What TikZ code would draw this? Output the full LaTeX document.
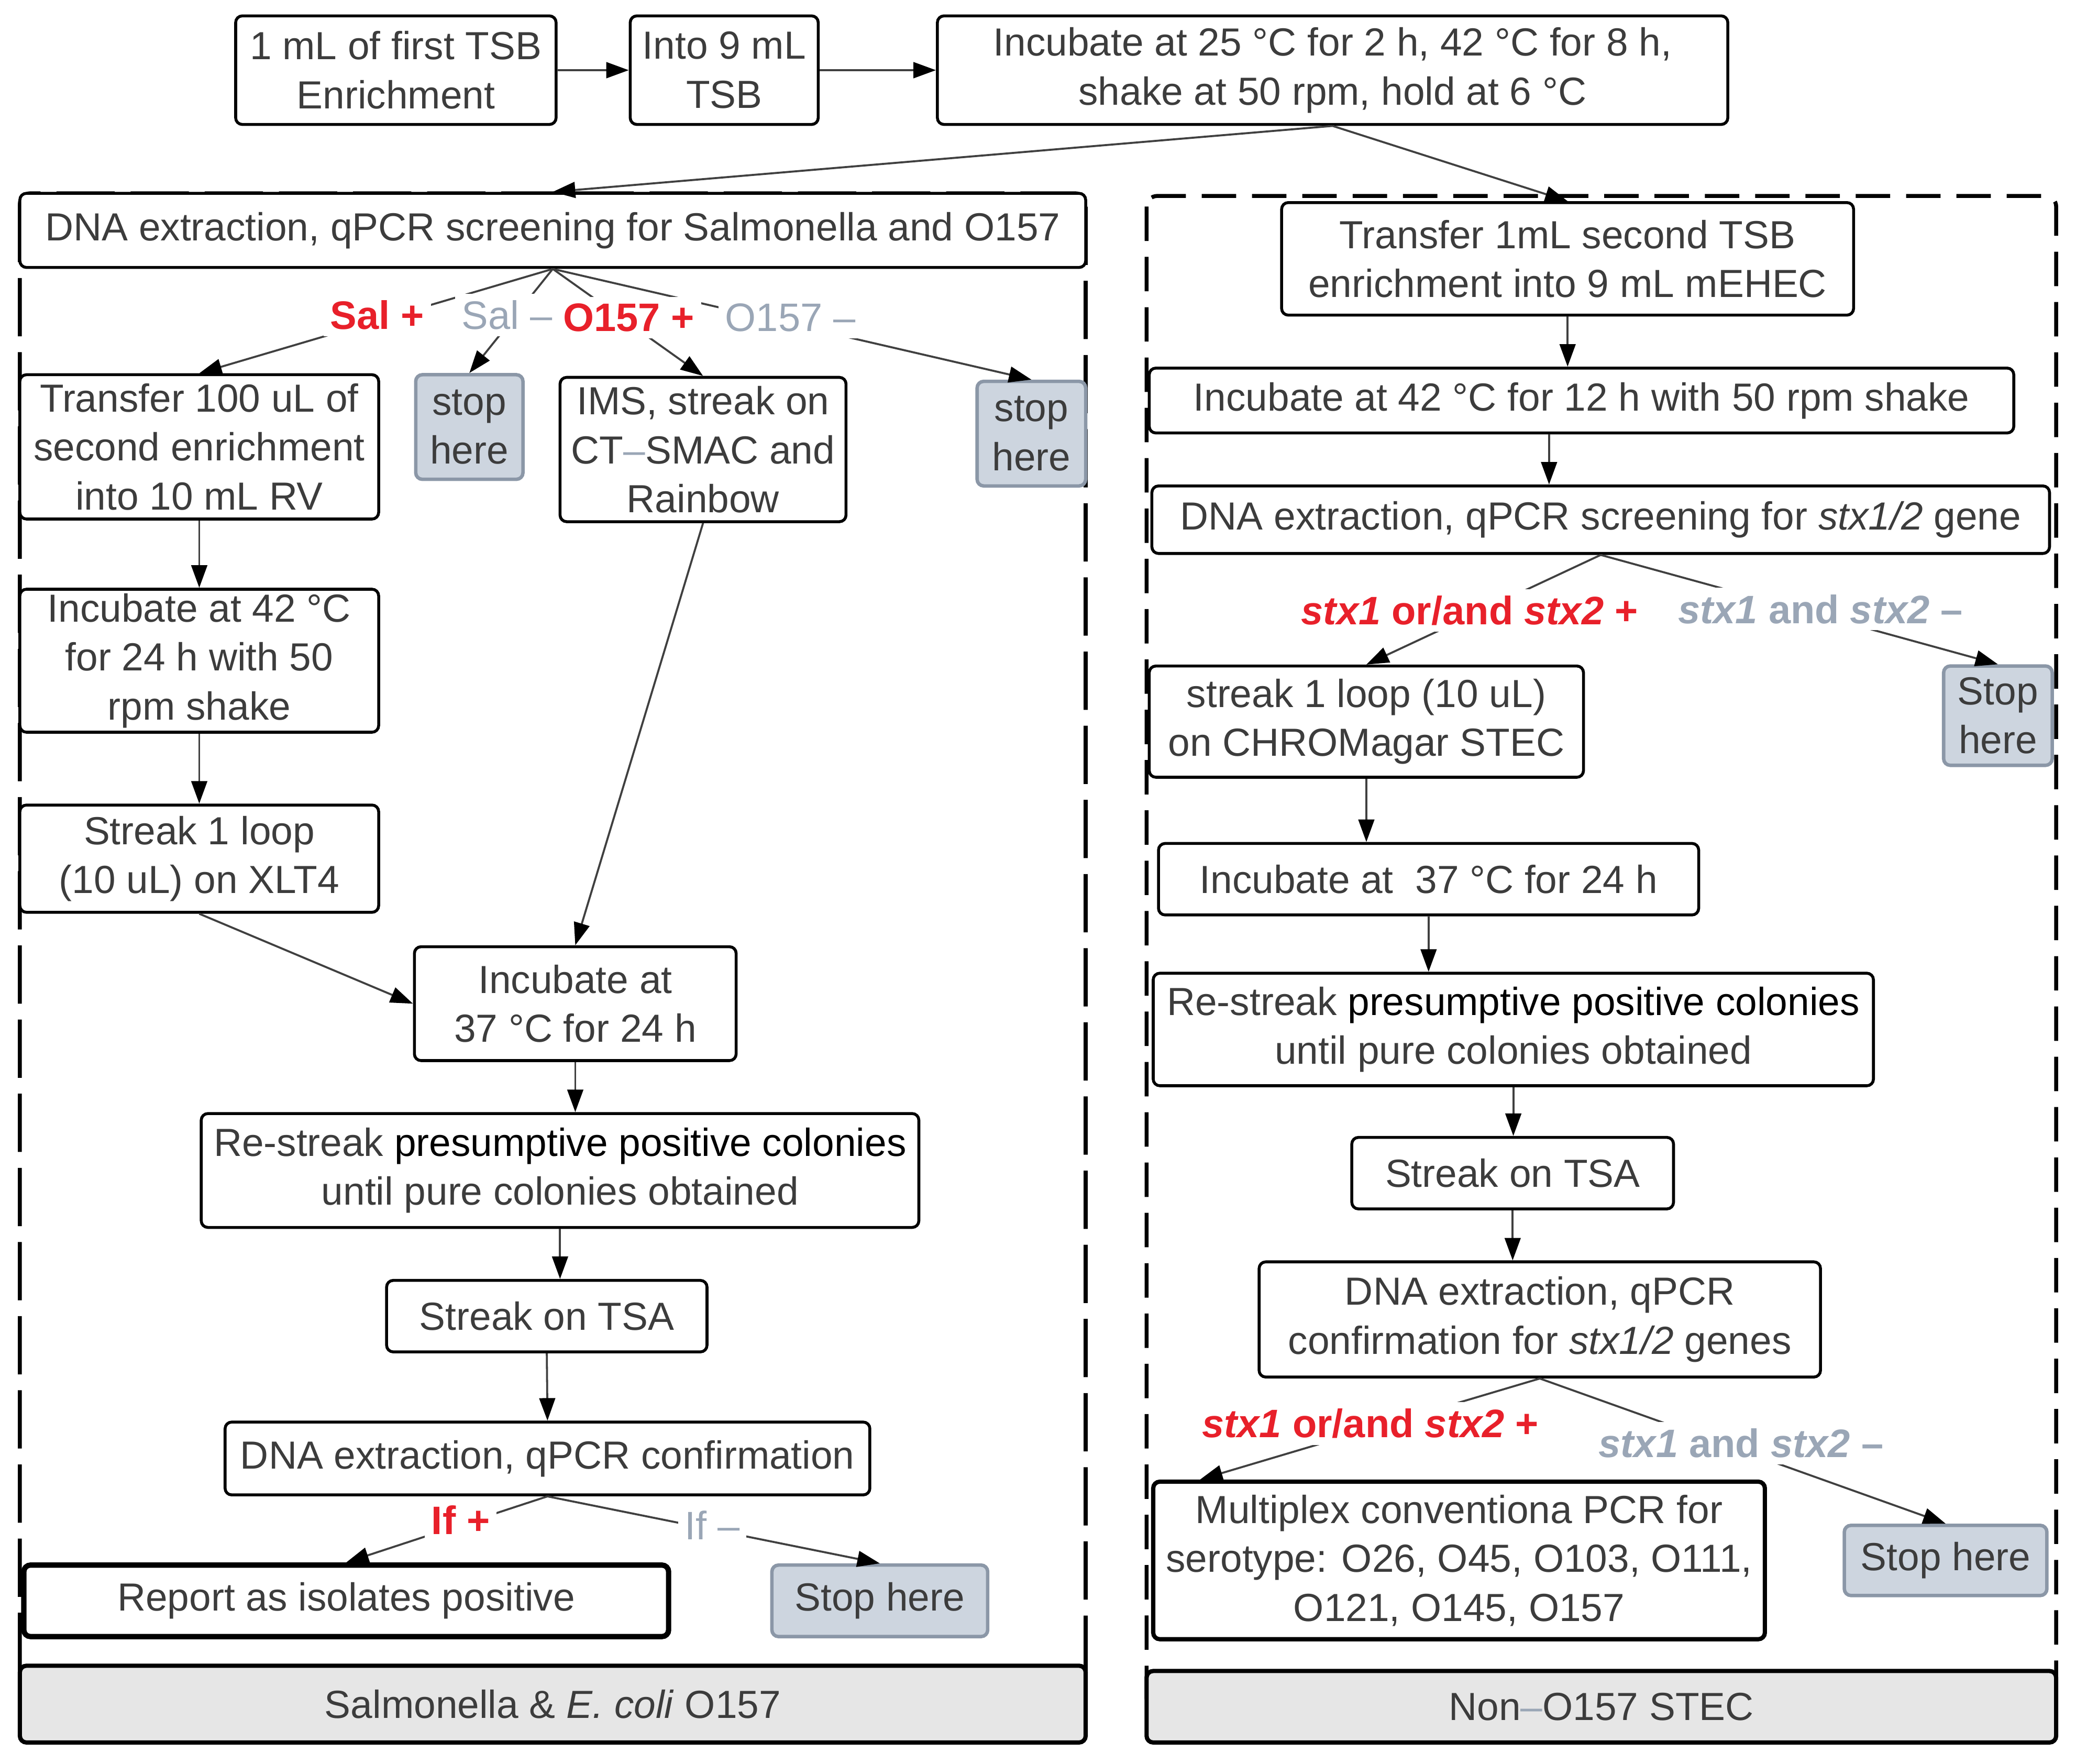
\documentclass[tikz,border=0pt]{standalone}
\usepackage{fontspec}
\setmainfont{Liberation Sans}
\usetikzlibrary{arrows.meta,calc}
\definecolor{txt}{HTML}{3C3C3C}
\definecolor{redl}{HTML}{E8202A}
\definecolor{grayl}{HTML}{9AA6B6}
\definecolor{stopfill}{HTML}{CDD5DF}
\definecolor{stopdraw}{HTML}{8B97A7}
\definecolor{barfill}{HTML}{E6E6E6}
\definecolor{conn}{HTML}{404040}
\begin{document}
\begin{tikzpicture}[x=0.5pt,y=-0.5pt,
 box/.style={draw=black, line width=1.1pt, rounded corners=2.5pt, fill=white, align=center, inner sep=0pt, text=txt, font=\fontsize{14.8}{18.5}\selectfont},
 stopbox/.style={box, draw=stopdraw, fill=stopfill, line width=1.3pt},
 barbox/.style={box, fill=barfill, line width=1.6pt},
 lab/.style={fill=white, inner sep=2.5pt, font=\fontsize{15}{18}\selectfont},
 arr/.style={draw=conn, line width=0.75pt, -{Triangle[length=8.5pt,width=6pt,color=black]}},
 cont/.style={draw=black, line width=1.5pt, rounded corners=4pt}
]
\path[fill=white] (0,0) rectangle (1568,1332);
\useasboundingbox (0,0) rectangle (1568,1332);

% containers
\draw[cont, dash pattern=on 22pt off 6pt] (15,146) rectangle (820,1290);
\draw[cont, dash pattern=on 13pt off 6pt] (866,148) rectangle (1553,1290);
\node[barbox, minimum width=402.5pt, minimum height=29pt] (LB) at (417.5,1287) {Salmonella \& \textit{E. coli} O157};
\node[barbox, minimum width=343.5pt, minimum height=27pt] (RB) at (1209.5,1289) {Non\textcolor{grayl}{–}O157 STEC};

% top row
\node[box, minimum width=121pt, minimum height=41pt] (B1) at (299,53) {1 mL of first TSB\\Enrichment};
\node[box, minimum width=71pt, minimum height=41pt] (B2) at (547,53) {Into 9 mL\\TSB};
\node[box, minimum width=298.5pt, minimum height=41pt] (B3) at (1006.5,53) {Incubate at 25 °C for 2 h, 42 °C for 8 h,\\shake at 50 rpm, hold at 6 °C};

% left column
\node[box, minimum width=402.5pt, minimum height=28pt] (L1) at (417.5,174) {DNA extraction, qPCR screening for Salmonella and O157};
\node[box, minimum width=135.5pt, minimum height=54.5pt] (L2) at (150.5,337.5) {Transfer 100 uL of\\second enrichment\\into 10 mL RV};
\node[stopbox, minimum width=40.5pt, minimum height=39.5pt] (S1) at (354.5,322.5) {stop\\here};
\node[box, minimum width=108pt, minimum height=54.5pt] (L3) at (531,339.5) {IMS, streak on\\CT\textcolor{grayl}{–}SMAC and\\Rainbow};
\node[stopbox, minimum width=41pt, minimum height=39.5pt] (S2) at (779,327.5) {stop\\here};
\node[box, minimum width=135.5pt, minimum height=54pt] (L4) at (150.5,499) {Incubate at 42 °C\\for 24 h with 50\\rpm shake};
\node[box, minimum width=135.5pt, minimum height=40.5pt] (L5) at (150.5,648.5) {Streak 1 loop\\(10 uL) on XLT4};
\node[box, minimum width=121.5pt, minimum height=43pt] (L6) at (434.5,758) {Incubate at\\37 °C for 24 h};
\node[box, minimum width=271pt, minimum height=43pt] (L7) at (423,884) {Re-streak \textcolor{black}{presumptive positive colonies}\\until pure colonies obtained};
\node[box, minimum width=121pt, minimum height=27pt] (L8) at (413,994) {Streak on TSA};
\node[box, minimum width=243.5pt, minimum height=27.5pt] (L9) at (413.5,1101.5) {DNA extraction, qPCR confirmation};
\node[box, line width=2pt, minimum width=243.5pt, minimum height=27pt] (L10) at (261.5,1209) {Report as isolates positive};
\node[stopbox, minimum width=81.5pt, minimum height=27pt] (S3) at (664.5,1209) {Stop here};

% right column
\node[box, minimum width=216pt, minimum height=42.5pt] (R1) at (1184,195.5) {Transfer 1mL second TSB\\enrichment into 9 mL mEHEC};
\node[box, minimum width=326.5pt, minimum height=24.5pt] (R2) at (1194.5,302.5) {Incubate at 42 °C for 12 h with 50 rpm shake};
\node[box, minimum width=339pt, minimum height=25.5pt] (R3) at (1209,392.5) {DNA extraction, qPCR screening for \textit{stx1/2} gene};
\node[box, minimum width=164pt, minimum height=42pt] (R4) at (1032,545) {streak 1 loop (10 uL)\\on CHROMagar STEC};
\node[stopbox, minimum width=41pt, minimum height=37.5pt] (S4) at (1509,540.5) {Stop\\here};
\node[box, minimum width=204pt, minimum height=27pt] (R5) at (1079,664) {Incubate at\ \ 37 °C for 24 h};
\node[box, minimum width=272pt, minimum height=42.5pt] (R6) at (1143,777.5) {Re-streak \textcolor{black}{presumptive positive colonies}\\until pure colonies obtained};
\node[box, minimum width=121.5pt, minimum height=27pt] (R7) at (1142.5,886) {Streak on TSA};
\node[box, minimum width=212pt, minimum height=43.5pt] (R8) at (1163,996.5) {DNA extraction, qPCR\\confirmation for \textit{stx1/2} genes};
\node[box, line width=1.6pt, minimum width=231pt, minimum height=59.5pt] (R9) at (1102,1178.5) {Multiplex conventiona PCR for\\serotype: O26, O45, O103, O111,\\O121, O145, O157};
\node[stopbox, minimum width=76.5pt, minimum height=26.5pt] (S5) at (1469.5,1178.5) {Stop here};
\coordinate (R9in) at ([xshift=18.5pt]R9.north west);

% connectors
\draw[arr] (B1.east) -- (B2.west);
\draw[arr] (B2.east) -- (B3.west);
\draw[arr] (B3.south) -- (L1.north);
\draw[arr] (B3.south) -- (R1.north);

\draw[arr] (L1.south) -- (L2.north);
\draw[arr] (L1.south) -- (S1.north);
\draw[arr] (L1.south) -- (L3.north);
\draw[arr] (L1.south) -- (S2.north);
\draw[arr] (L2.south) -- (L4.north);
\draw[arr] (L4.south) -- (L5.north);
\draw[arr] (L5.south) -- (L6.west);
\draw[arr] (L3.south) -- (L6.north);
\draw[arr] (L6.south) -- (L6.south |- L7.north);
\draw[arr] (L7.south) -- (L7.south |- L8.north);
\draw[arr] (L8.south) -- (L9.north);
\draw[arr] (L9.south) -- (L10.north);
\draw[arr] (L9.south) -- (S3.north);

\draw[arr] (R1.south) -- (R1.south |- R2.north);
\draw[arr] (1170,0 |- R2.south) -- (1170,0 |- R3.north);
\draw[arr] (R3.south) -- (R4.north);
\draw[arr] (R3.south) -- (S4.north);
\draw[arr] (R4.south) -- (R4.south |- R5.north);
\draw[arr] (R5.south) -- (R5.south |- R6.north);
\draw[arr] (R6.south) -- (R6.south |- R7.north);
\draw[arr] (R7.south) -- (R7.south |- R8.north);
\draw[arr] (R8.south) -- (R9in);
\draw[arr] (R8.south) -- (S5.north);

% labels
\node[lab, text=redl, font=\fontsize{15}{18}\bfseries] (lSalp) at (285,238) {Sal +};
\node[lab, text=grayl] (lSalm) at (383,238) {Sal –};
\node[lab, text=redl, font=\fontsize{15}{18}\bfseries] (lOp) at (475,240) {O157 +};
\node[lab, text=grayl] (lOm) at (597,240) {O157 –};
\node[lab, text=redl, font=\fontsize{15}{18}\bfseries] (lIfp) at (348,1148) {If +};
\node[lab, text=grayl] (lIfm) at (538,1152) {If –};
\node[lab, text=redl, font=\fontsize{15}{18}\bfseries] (lSp1) at (1110,461) {\textit{stx1} or/and \textit{stx2} +};
\node[lab, text=grayl, font=\fontsize{15}{18}\bfseries] (lSm1) at (1375,460) {\textit{stx1} and \textit{stx2} –};
\node[lab, text=redl, font=\fontsize{15}{18}\bfseries] (lSp2) at (1035,1075) {\textit{stx1} or/and \textit{stx2} +};
\node[lab, text=grayl, font=\fontsize{15}{18}\bfseries] (lSm2) at (1315,1090) {\textit{stx1} and \textit{stx2} –};
\end{tikzpicture}
\end{document}
